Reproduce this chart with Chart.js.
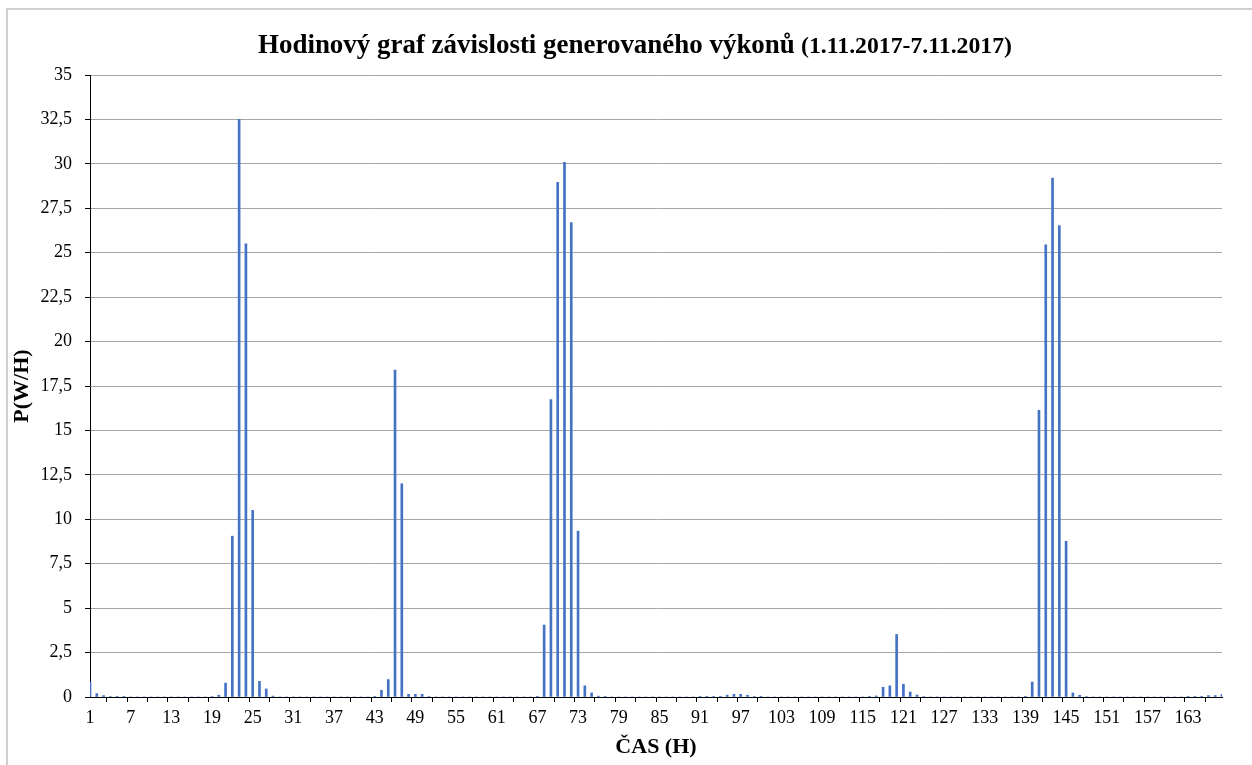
<!DOCTYPE html>
<html lang="cs">
<head>
<meta charset="utf-8">
<title>Hodinový graf závislosti generovaného výkonů</title>
<script src="https://cdn.jsdelivr.net/npm/chart.js"></script>
<style>
  html, body { margin: 0; padding: 0; background: #fff; }
  #ramecek { position: absolute; left: 6px; top: 8px; width: 1400px; height: 900px; border-left: 2px solid #cfcfcf; border-top: 2px solid #cfcfcf; }
  #obal { position: relative; width: 1252px; height: 765px; }
</style>
</head>
<body>
<div id="obal">
  <div id="ramecek"></div>
  <canvas id="graf" width="1252" height="765" style="position: absolute; left: 0; top: 0;"></canvas>
</div>

<script>
  // hodinové hodnoty výkonu P(W/H), po dnech (1.11.2017 - 7.11.2017)
  const den1 = [0.86, 0.19, 0.08, 0.03, 0.02, 0.01, 0, 0, 0, 0, 0, 0, 0, 0, 0, 0, 0, 0, 0.03, 0.1, 0.78, 9.05, 32.5, 25.5];
  const den2 = [10.5, 0.88, 0.45, 0.05, 0, 0, 0, 0, 0, 0, 0, 0, 0, 0, 0, 0, 0, 0, 0.02, 0.38, 0.98, 18.4, 12.0, 0.15];
  const den3 = [0.15, 0.15, 0.03, 0, 0, 0, 0, 0, 0, 0, 0, 0, 0, 0, 0, 0, 0, 0, 0.02, 4.05, 16.73, 28.96, 30.08, 26.7];
  const den4 = [9.33, 0.63, 0.23, 0.05, 0.02, 0, 0, 0, 0, 0, 0, 0, 0, 0, 0, 0, 0, 0, 0.02, 0.01, 0.02, 0.04, 0.1, 0.15];
  const den5 = [0.15, 0.1, 0.03, 0.01, 0, 0, 0, 0, 0, 0, 0, 0, 0, 0, 0, 0, 0, 0, 0, 0.02, 0.06, 0.55, 0.63, 3.52];
  const den6 = [0.72, 0.28, 0.11, 0.03, 0, 0, 0, 0, 0, 0, 0, 0, 0, 0, 0, 0, 0, 0, 0.02, 0.84, 16.13, 25.44, 29.2, 26.52];
  const den7 = [8.76, 0.23, 0.1, 0.03, 0, 0, 0, 0, 0, 0, 0, 0, 0, 0, 0, 0, 0, 0, 0.01, 0.02, 0.04, 0.08, 0.08, 0.15];

  const nadpis = 'Hodinový graf závislosti generovaného výkonů';
  const podnadpis = '(1.11.2017-7.11.2017)';
  const osaY = 'P(W/H)';
  const osaX = 'ČAS (H)';

  const vykon = [].concat(den1, den2, den3, den4, den5, den6, den7);
  const hodiny = vykon.map((v, i) => String(i + 1));

  const pismo = 'Liberation Serif, Times New Roman, serif';

  // nadpis ve dvou velikostech písma, velikost dopočtená podle šířky
  function textNaSirku(ctx, text, x, y, sirka) {
    ctx.font = 'bold 20px ' + pismo;
    const w = ctx.measureText(text).width;
    const velikost = 20 * sirka / w;
    ctx.font = 'bold ' + velikost.toFixed(2) + 'px ' + pismo;
    ctx.fillText(text, x, y);
  }

  const nadpisPlugin = {
    id: 'nadpis',
    afterDraw(chart) {
      const ctx = chart.ctx;
      ctx.save();
      ctx.fillStyle = '#000';
      ctx.textBaseline = 'alphabetic';
      ctx.textAlign = 'left';
      textNaSirku(ctx, nadpis, 258, 53, 537);
      textNaSirku(ctx, podnadpis, 801, 53, 211);
      ctx.restore();
    }
  };

  new Chart(document.getElementById('graf'), {
    type: 'bar',
    data: {
      labels: hodiny,
      datasets: [{
        label: 'P(W/H)',
        data: vykon,
        backgroundColor: '#4472C4',
        borderWidth: 0,
        barThickness: 2
      }]
    },
    options: {
      responsive: false,
      animation: false,
      layout: { padding: { top: 75, right: 30, left: 0, bottom: 0 } },
      plugins: {
        legend: { display: false },
        tooltip: { enabled: false }
      },
      scales: {
        x: {
          offset: false,
          afterFit(scale) { scale.height = 68; },
          grid: {
            drawOnChartArea: false,
            tickLength: 5,
            tickColor: ctx => ctx.index % 3 === 0 ? '#000' : 'rgba(0,0,0,0)'
          },
          border: { display: true, color: '#000', width: 1 },
          ticks: {
            autoSkip: false,
            maxRotation: 0,
            padding: 5,
            color: '#000',
            font: { family: pismo, size: 18 },
            callback: function(value, index) {
              return index % 6 === 0 ? this.getLabelForValue(value) : '';
            }
          },
          title: {
            display: true,
            text: osaX,
            color: '#000',
            font: { family: pismo, size: 22, weight: 'bold' },
            padding: { top: 0, bottom: 4 }
          }
        },
        y: {
          min: 0,
          max: 35,
          afterFit(scale) { scale.width = 90; },
          grid: {
            color: '#a6a6a6',
            lineWidth: 1,
            tickLength: 5,
            tickColor: '#000'
          },
          border: { display: true, color: '#000', width: 1 },
          ticks: {
            stepSize: 2.5,
            padding: 13,
            color: '#000',
            font: { family: pismo, size: 18 },
            callback: value => String(value).replace('.', ',')
          },
          title: {
            display: true,
            text: osaY,
            color: '#000',
            font: { family: pismo, size: 22, weight: 'bold' },
            padding: { top: 9, bottom: 0 }
          }
        }
      }
    },
    plugins: [nadpisPlugin]
  });
</script>
</body>
</html>
